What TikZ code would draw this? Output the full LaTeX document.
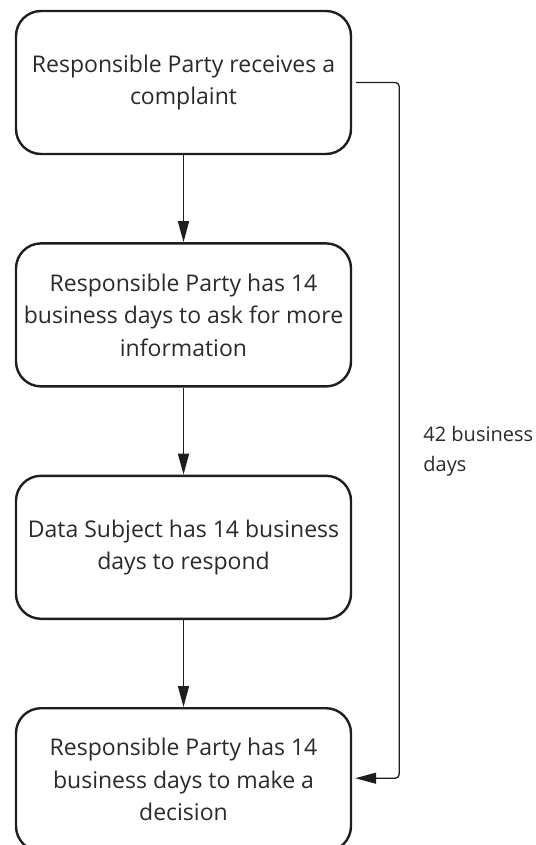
\documentclass[tikz,border=0pt]{standalone}
\usepackage{fontspec}
\setmainfont{Open Sans}
\usetikzlibrary{arrows.meta,positioning}

\definecolor{ink}{HTML}{1E1E1E}
\definecolor{txt}{HTML}{2A2A2A}

\begin{document}
\begin{tikzpicture}[
  font=\fontsize{23}{32.5}\selectfont,
  stage/.style ={draw=ink, line width=2.4pt, rounded corners=25pt, align=center,
                 minimum width=335pt, minimum height=143pt, text=txt, inner sep=0pt},
  ar/.style    ={-{Triangle[length=21pt,width=11pt]}, draw=ink, line width=1.3pt},
  lbl/.style   ={font=\fontsize{20}{30}\selectfont, text=txt, align=left, inner sep=0pt},
]
\useasboundingbox (0,0) rectangle (535pt,-845pt);

% --- stages ---
\node[stage] (recv) at (183.5pt,-82.5pt) {Responsible Party receives a\\complaint};
\node[stage, below=87pt of recv] (ask)
  {Responsible Party has 14\\business days to ask for more\\information};
\node[stage, below=87pt of ask] (reply) {Data Subject has 14 business\\days to respond};
\node[stage, below=87pt of reply] (decide)
  {Responsible Party has 14\\business days to make a\\decision};

% --- flow ---
\draw[ar] (recv) -- (ask);
\draw[ar] (ask) -- (reply);
\draw[ar] (reply) -- (decide);

% --- overall deadline ---
\coordinate (bend) at ([xshift=47pt]recv.east);
\draw[ar, rounded corners=4pt, shorten <=4pt, shorten >=3pt]
  (recv.east) -- (bend) |- ([yshift=1.5pt]decide.east);
\node[lbl, anchor=north west] (span) at ([xshift=24pt,yshift=-344pt]bend) {42 business\\days};
\end{tikzpicture}
\end{document}
